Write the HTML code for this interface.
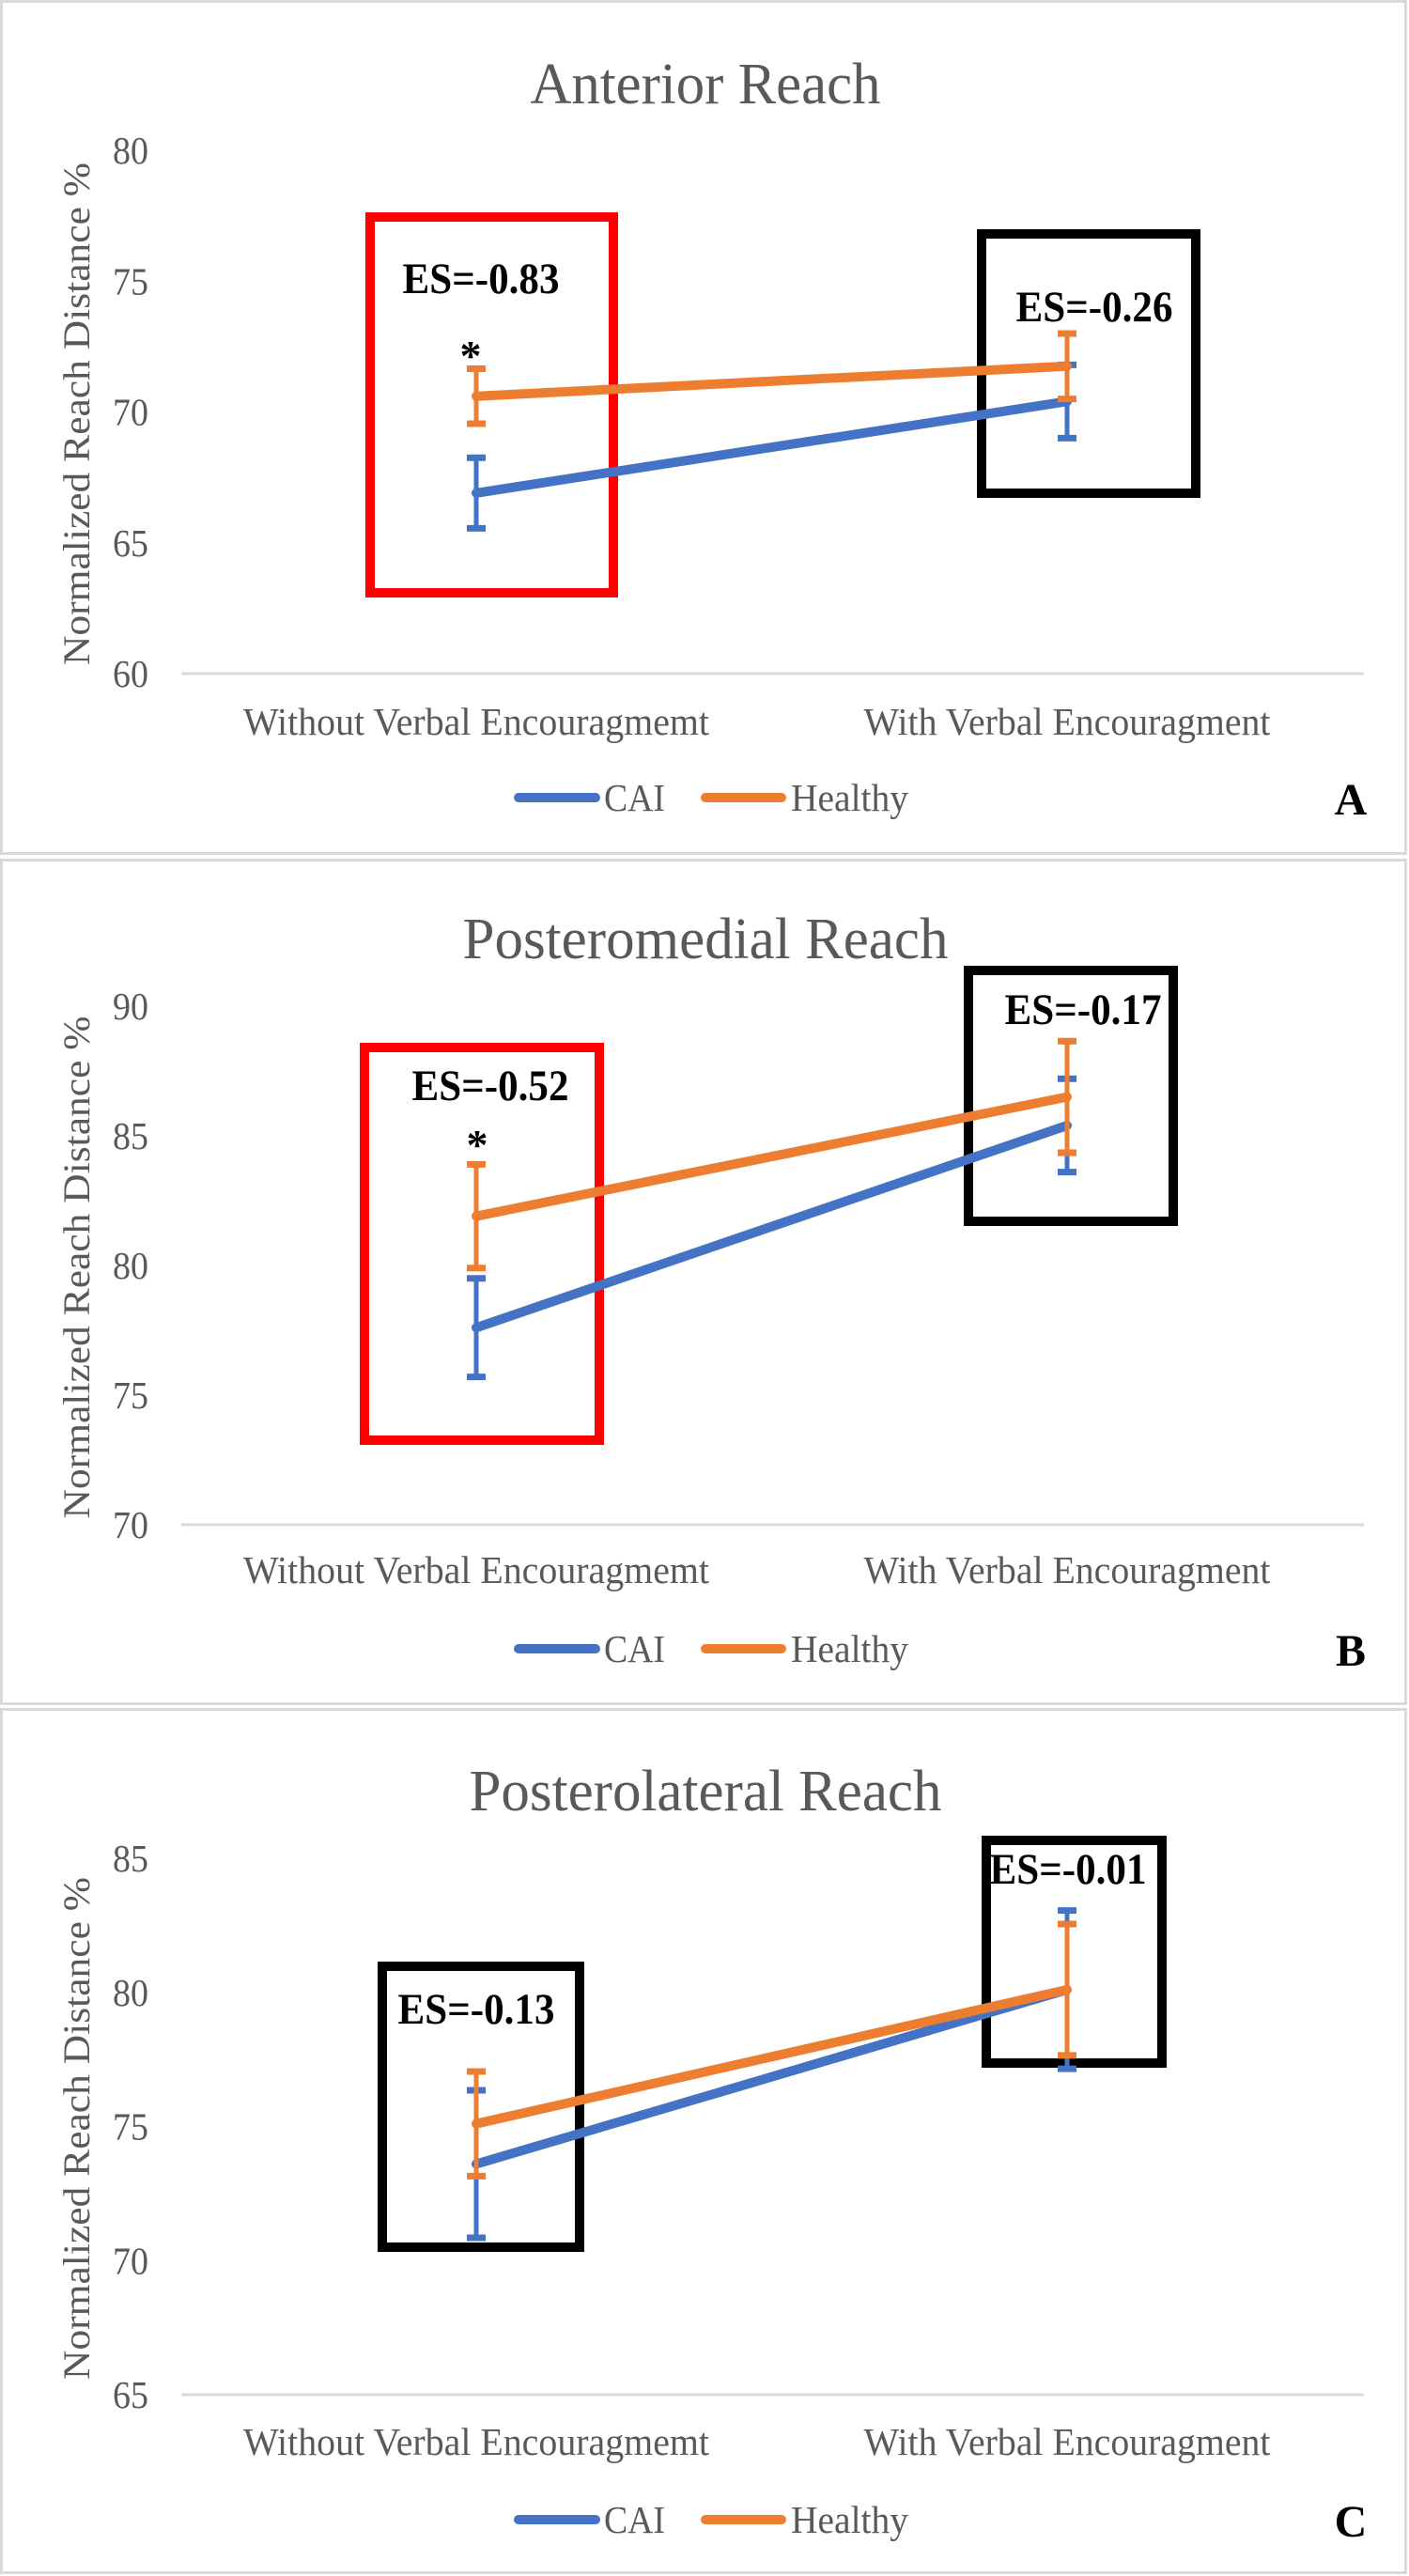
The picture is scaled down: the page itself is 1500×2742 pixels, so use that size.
<!DOCTYPE html>
<html><head><meta charset="utf-8"><style>
html,body{margin:0;padding:0;background:#fff}
svg{display:block}
text{font-family:"Liberation Serif",serif}
</style></head><body>
<svg id="chart" width="1500" height="2742" viewBox="0 0 1500 2742" xmlns="http://www.w3.org/2000/svg"></svg>
<script>
const categories = ["Without Verbal Encouragmemt", "With Verbal Encouragment"];
const titles = ["Anterior Reach", "Posteromedial Reach", "Posterolateral Reach"];
const panelLetters = ["A", "B", "C"];
const yMins = [60, 70, 65];
const yMaxs = [80, 90, 85];
const yTickLabelsA = ["60", "65", "70", "75", "80"];
const yTickLabelsB = ["70", "75", "80", "85", "90"];
const yTickLabelsC = ["65", "70", "75", "80", "85"];
const caiA = [66.9, 70.4], caiErrA = [1.35, 1.4];
const healthyA = [70.6, 71.75], healthyErrA = [1.05, 1.25];
const caiB = [77.6, 85.4], caiErrB = [1.9, 1.8];
const healthyB = [81.9, 86.5], healthyErrB = [2.0, 2.15];
const caiC = [73.6, 80.1], caiErrC = [2.75, 2.95];
const healthyC = [75.1, 80.1], healthyErrC = [1.95, 2.45];
const esLabels = [["ES=-0.83", "ES=-0.26"], ["ES=-0.52", "ES=-0.17"], ["ES=-0.13", "ES=-0.01"]];

const NS = "http://www.w3.org/2000/svg";
const svg = document.getElementById("chart");
function mk(tag, attrs, parent, txt) {
  const e = document.createElementNS(NS, tag);
  for (const k in attrs) e.setAttribute(k, attrs[k]);
  if (txt !== undefined) e.textContent = txt;
  (parent || svg).appendChild(e);
  return e;
}
const BLUE = "#4472C4", ORANGE = "#ED7D31", GRAY = "#595959";

const layouts = [
  {top:0, bottom:910, titleY:90, titleW:373, yTop:160, yBot:717, catY:780, legY:849,
   boxes:[{x:394,y:231,w:259,h:400,c:"#ff0000"},{x:1045,y:249,w:228,h:276,c:"#000"}],
   es:[[512,310],[1165,340]], star:[501,372]},
  {top:914, bottom:1815, titleY:1000, titleW:517, yTop:1071, yBot:1623, catY:1683, legY:1755,
   boxes:[{x:388,y:1115,w:250,h:418,c:"#ff0000"},{x:1031,y:1033,w:218,h:267,c:"#000"}],
   es:[[522,1169],[1153,1088]], star:[508,1212]},
  {top:1818, bottom:2740, titleY:1907, titleW:503, yTop:1978, yBot:2549, catY:2611, legY:2682,
   boxes:[{x:407,y:2093,w:210,h:299,c:"#000"},{x:1050,y:1959,w:187,h:237,c:"#000"}],
   es:[[507,2152],[1137,2003]], star:null}
];
const ticksAll = [yTickLabelsA, yTickLabelsB, yTickLabelsC];
const caiAll = [caiA, caiB, caiC], caiErrAll = [caiErrA, caiErrB, caiErrC];
const hAll = [healthyA, healthyB, healthyC], hErrAll = [healthyErrA, healthyErrB, healthyErrC];
const catX = [507, 1136];

layouts.forEach((L, p) => {
  const g = mk("g", {});
  
  
  const border = mk("rect", {x:1.5, y:L.top+1.5, width:1495, height:L.bottom-L.top-3, fill:"#fff", stroke:"#d9d9d9", "stroke-width":3}, g);
  
  
  const yScale = v => L.yBot - (v - yMins[p]) / (yMaxs[p] - yMins[p]) * (L.yBot - L.yTop);
  const t = mk("text", {x:751, y:L.titleY + 20, "text-anchor":"middle", "font-size":62, fill:GRAY, textLength:L.titleW, lengthAdjust:"spacingAndGlyphs"}, g, titles[p]);
  
  
  const yt = mk("text", {x:0, y:0, transform:`translate(95,${(L.yTop+L.yBot)/2+2}) rotate(-90)`, "text-anchor":"middle", "font-size":40, fill:GRAY, textLength:535, lengthAdjust:"spacingAndGlyphs"}, g, "Normalized Reach Distance %");
  
  
  ticksAll[p].forEach(lbl => {
    const tk = mk("text", {x:158, y:yScale(+lbl)+14, "text-anchor":"end", "font-size":41, fill:GRAY, textLength:38, lengthAdjust:"spacingAndGlyphs"}, g, lbl);
    
    
  });
  const ax = mk("line", {x1:193, x2:1452, y1:L.yBot, y2:L.yBot, stroke:"#d9d9d9", "stroke-width":3}, g);
  
  
  const catW = [496, 433];
  categories.forEach((c, i) => {
    const ct = mk("text", {x:catX[i], y:L.catY+2, "text-anchor":"middle", "font-size":41, fill:GRAY, textLength:catW[i], lengthAdjust:"spacingAndGlyphs"}, g, c);
    
    
  });
  L.boxes.forEach(b => {
    const r = mk("rect", {x:b.x, y:b.y, width:b.w, height:b.h, fill:"none", stroke:b.c, "stroke-width":10}, g);
    
    
  });
  [[caiAll[p], caiErrAll[p], BLUE, "cai"], [hAll[p], hErrAll[p], ORANGE, "healthy"]].forEach(([vals, errs, col, nm]) => {
    vals.forEach((v, i) => {
      const eg = mk("g", {stroke:col, "stroke-width":5}, g);
      
      
      const hi = yScale(v + errs[i]), lo = yScale(v - errs[i]);
      mk("line", {x1:catX[i], x2:catX[i], y1:hi, y2:lo}, eg);
      mk("line", {x1:catX[i]-10, x2:catX[i]+10, y1:hi, y2:hi, "stroke-width":7}, eg);
      mk("line", {x1:catX[i]-10, x2:catX[i]+10, y1:lo, y2:lo, "stroke-width":7}, eg);
    });
    const ln = mk("line", {x1:catX[0], y1:yScale(vals[0]), x2:catX[1], y2:yScale(vals[1]), stroke:col, "stroke-width":10, "stroke-linecap":"round"}, g);
    
    
  });
  L.es.forEach((pos, i) => {
    const e = mk("text", {x:pos[0], y:pos[1]+2, "text-anchor":"middle", "font-size":47, "font-weight":"bold", fill:"#000", textLength:167, lengthAdjust:"spacingAndGlyphs"}, g, esLabels[p][i]);
    
    
  });
  if (L.star) {
    const s = mk("text", {x:L.star[0], y:L.star[1]+22, "text-anchor":"middle", "font-size":46, "font-weight":"bold", fill:"#000"}, g, "*");
    
    
  }
  const lg = mk("g", {}, g);
  
  
  const l1 = mk("line", {x1:552, x2:634, y1:L.legY, y2:L.legY, stroke:BLUE, "stroke-width":10, "stroke-linecap":"round"}, lg);
  
  
  const lt1 = mk("text", {x:643, y:L.legY+14, "font-size":41, fill:GRAY, textLength:65, lengthAdjust:"spacingAndGlyphs"}, lg, "CAI");
  
  
  const l2 = mk("line", {x1:751, x2:832, y1:L.legY, y2:L.legY, stroke:ORANGE, "stroke-width":10, "stroke-linecap":"round"}, lg);
  
  
  const lt2 = mk("text", {x:842, y:L.legY+14, "font-size":41, fill:GRAY, textLength:125, lengthAdjust:"spacingAndGlyphs"}, lg, "Healthy");
  
  
  const pl = mk("text", {x:1438, y:L.legY+18, "text-anchor":"middle", "font-size":48, "font-weight":"bold", fill:"#000"}, g, panelLetters[p]);
  
  
});
</script>
</body></html>
